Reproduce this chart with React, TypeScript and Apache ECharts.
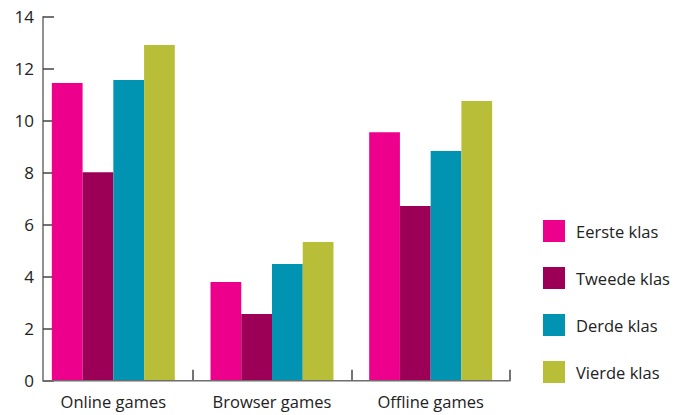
import React, { useEffect, useRef } from "react";
import * as echarts from "echarts";

const categories = ["Online games", "Browser games", "Offline games"];
const seriesNames = ["Eerste klas", "Tweede klas", "Derde klas", "Vierde klas"];
const eersteKlas = [11.45, 3.8, 9.56];
const tweedeKlas = [8.02, 2.57, 6.72];
const derdeKlas = [11.57, 4.49, 8.83];
const vierdeKlas = [12.91, 5.33, 10.76];
const colors = ["#EC008C", "#9B0056", "#0093B2", "#B8BE37"];
const yTicks = { min: 0, max: 14, interval: 2 };

export default function App() {
  const ref = useRef<HTMLDivElement>(null);
  useEffect(() => {
    if (!ref.current) return;
    document.body.style.margin = "0";
    const chart = echarts.init(ref.current, null, { renderer: "svg" });
    const values = [eersteKlas, tweedeKlas, derdeKlas, vierdeKlas];
    chart.setOption({
      animation: false,
      textStyle: { fontFamily: "Open Sans", color: "#222" },
      grid: { left: 34, right: 189, top: 16.7, bottom: 34.3, containLabel: false },
      legend: {
        orient: "vertical",
        left: 543,
        top: 220,
        padding: 0,
        itemWidth: 22,
        itemHeight: 22,
        itemGap: 25,
        icon: "rect",
        data: seriesNames,
        textStyle: { fontSize: 16.5, color: "#222", padding: [0, 0, 0, 6], fontFamily: "Open Sans" },
      },
      xAxis: {
        type: "category",
        data: categories,
        axisLine: { show: false },
        axisTick: {
          show: true,
          inside: true,
          length: 11,
          interval: (index: number) => index !== 0,
          lineStyle: { color: "#444", width: 1.5 },
        },
        axisLabel: { fontSize: 16.5, color: "#222", margin: 12, fontFamily: "Open Sans" },
      },
      yAxis: {
        type: "value",
        min: yTicks.min,
        max: yTicks.max,
        interval: yTicks.interval,
        offset: -9,
        splitLine: { show: false },
        axisLine: { show: true, lineStyle: { color: "#6d6d6d", width: 1.5 } },
        axisTick: { show: true, inside: true, length: 11, lineStyle: { color: "#444", width: 1.5 } },
        axisLabel: { fontSize: 17, color: "#222", margin: 9, fontFamily: "Open Sans" },
      },
      series: seriesNames.map((name, i) => ({
        name,
        type: "bar",
        data: values[i],
        barGap: "0%",
        barCategoryGap: "22.5%",
        itemStyle: { color: colors[i] },
      })),
    });
    const y0 = chart.convertToPixel({ yAxisIndex: 0 }, 0) as number;
    chart.setOption({
      graphic: [
        {
          type: "line",
          shape: { x1: 42.5, y1: y0, x2: 510.5, y2: y0 },
          style: { stroke: "#6d6d6d", lineWidth: 1.5 },
          z: 10,
        },
      ],
    });
    return () => chart.dispose();
  }, []);
  return <div ref={ref} style={{ width: 699, height: 415 }} />;
}
